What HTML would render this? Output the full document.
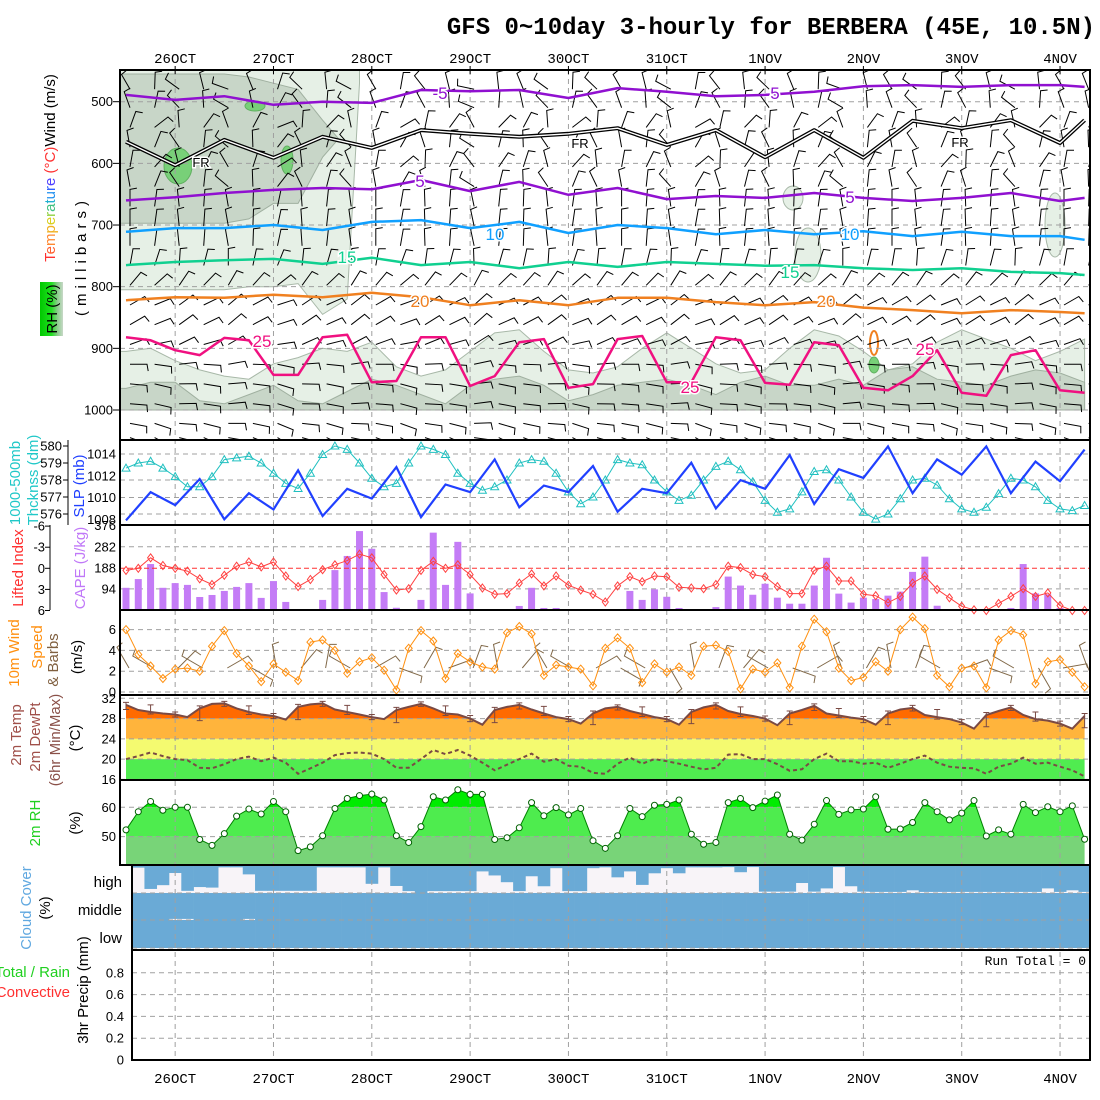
<!DOCTYPE html>
<html><head><meta charset="utf-8"><title>GFS meteogram BERBERA</title>
<style>
html,body{margin:0;padding:0;background:#fff;}
svg{display:block;font-family:"Liberation Sans",sans-serif;}
.tk{font-size:13px;fill:#000;}
.lab{font-size:15px;}
.date{font-family:"Liberation Mono",monospace;font-size:14px;fill:#000;}
</style></head>
<body>
<svg id="chart" width="1100" height="1100" viewBox="0 0 1100 1100" xmlns="http://www.w3.org/2000/svg">
<defs>
<clipPath id="clipTop"><rect x="120" y="70" width="970" height="370"/></clipPath>
<clipPath id="clipTemp"><polygon id="tempClipPoly" points="0,0"/></clipPath>
<clipPath id="clipRH"><polygon id="rhClipPoly" points="0,0"/></clipPath>
<linearGradient id="rhGrad" x1="0" x2="1" y1="0" y2="0">
<stop offset="0" stop-color="#00c800"/><stop offset="0.5" stop-color="#20e020"/><stop offset="0.75" stop-color="#88cc88"/><stop offset="1" stop-color="#c8d8c8"/></linearGradient>
</defs>
<rect x="0" y="0" width="1100" height="1100" fill="#fff"/>
<g id="layerFill"></g>
<g id="layerGrid"></g>
<g id="layerMarks"></g>
<g id="layerFrame"></g>

<text x="1095" y="34" text-anchor="end" font-family="Liberation Mono, monospace" font-weight="bold" font-size="24">GFS 0~10day 3-hourly for BERBERA (45E, 10.5N)</text>

<!-- top panel labels -->
<text transform="translate(55,168) rotate(-90)" text-anchor="middle" class="lab"><tspan fill="#ff3030">T</tspan><tspan fill="#ff6030">e</tspan><tspan fill="#ff8830">m</tspan><tspan fill="#f0b020">p</tspan><tspan fill="#d8d020">e</tspan><tspan fill="#90d040">r</tspan><tspan fill="#40c080">a</tspan><tspan fill="#20b0d0">t</tspan><tspan fill="#2090f0">u</tspan><tspan fill="#3060ff">r</tspan><tspan fill="#5040ff">e</tspan><tspan fill="#ff3030"> (°C)</tspan><tspan fill="#000">Wind (m/s)</tspan></text>
<rect x="40" y="282" width="23" height="54" fill="url(#rhGrad)"/>
<text transform="translate(57,309) rotate(-90)" text-anchor="middle" class="lab" fill="#000">RH (%)</text>
<text transform="translate(86,256) rotate(-90)" text-anchor="middle" class="lab" fill="#000" letter-spacing="5">(millibars)</text>

<!-- panel 2 -->
<text transform="translate(20,483) rotate(-90)" text-anchor="middle" class="lab" fill="#20c8c8">1000-500mb</text>
<text transform="translate(38,480) rotate(-90)" text-anchor="middle" class="lab" fill="#20c8c8">Thcknss (dm)</text>
<text transform="translate(84,486) rotate(-90)" text-anchor="middle" class="lab" fill="#2040ff">SLP (mb)</text>
<!-- panel 3 -->
<text transform="translate(23,568) rotate(-90)" text-anchor="middle" class="lab" fill="#ff3030">Lifted Index</text>
<text transform="translate(85,568) rotate(-90)" text-anchor="middle" class="lab" fill="#c078f8">CAPE (J/kg)</text>
<!-- panel 4 -->
<text transform="translate(19,653) rotate(-90)" text-anchor="middle" class="lab" fill="#ff9010">10m Wind</text>
<text transform="translate(42,647) rotate(-90)" text-anchor="middle" class="lab" fill="#ff9010">Speed</text>
<text transform="translate(58,660) rotate(-90)" text-anchor="middle" class="lab" fill="#806040">&amp; Barbs</text>
<text transform="translate(82,657) rotate(-90)" text-anchor="middle" class="lab" fill="#000">(m/s)</text>
<!-- panel 5 -->
<text transform="translate(21,735) rotate(-90)" text-anchor="middle" class="lab" fill="#a0504a">2m Temp</text>
<text transform="translate(40,737) rotate(-90)" text-anchor="middle" class="lab" fill="#a0504a">2m DewPt</text>
<text transform="translate(60,740) rotate(-90)" text-anchor="middle" class="lab" fill="#8a5048">(6hr Min/Max)</text>
<text transform="translate(80,738) rotate(-90)" text-anchor="middle" class="lab" fill="#000">(°C)</text>
<!-- panel 6 -->
<text transform="translate(40,823) rotate(-90)" text-anchor="middle" class="lab" fill="#20d020">2m RH</text>
<text transform="translate(80,823) rotate(-90)" text-anchor="middle" class="lab" fill="#000">(%)</text>
<!-- panel 7 -->
<text transform="translate(31,908) rotate(-90)" text-anchor="middle" class="lab" fill="#60a8e0">Cloud Cover</text>
<text transform="translate(50,908) rotate(-90)" text-anchor="middle" class="lab" fill="#000">(%)</text>
<text x="122" y="887" text-anchor="end" class="lab">high</text>
<text x="122" y="915" text-anchor="end" class="lab">middle</text>
<text x="122" y="943" text-anchor="end" class="lab">low</text>
<!-- panel 8 -->
<text x="70" y="977" text-anchor="end" class="lab" fill="#20d020">Total / Rain</text>
<text x="70" y="997" text-anchor="end" class="lab" fill="#ff3030">Convective</text>
<text transform="translate(88,990) rotate(-90)" text-anchor="middle" class="lab" fill="#000">3hr Precip (mm)</text>
<text x="1086" y="965" text-anchor="end" font-family="Liberation Mono, monospace" font-size="13">Run Total = 0</text>
</svg>
<script>
// ---------- data ----------
const dayLabels = ["26OCT","27OCT","28OCT","29OCT","30OCT","31OCT","1NOV","2NOV","3NOV","4NOV"];
// 3-hourly series (79 points)
const rh2m = [52.3,58.5,62,59,60,60,49,47,51,57,59.4,57.7,62,58.5,45.2,46.5,50.3,59.6,63,64,64.5,62.5,50.3,48,53.4,63.6,62.5,66,64.4,64.4,49,49.6,53,61.6,57.1,59.9,57.4,59.6,48.6,46,50.3,59.6,56.8,60.7,61,62.5,50.8,47.4,48,61.6,63,59.9,62.1,64.2,50.8,48.8,54.2,62.3,57.6,59.1,59.4,63.6,52.5,52.6,54.8,61.6,58.5,55.7,58,62.3,50.2,52.3,50.8,61,58.2,60.2,58.5,60.5,49.1];
const temp2m = [30.7,29.7,29.3,29,28.8,28.3,30,30.9,31,30,29.3,28.8,28.5,27.8,30.3,30.8,31,29.8,29.3,28.8,28.3,27.9,29.7,30.3,30.9,30,29,28.8,28,26.8,29.7,30.3,30.7,29.8,29,28.3,27.9,27,29,30,30.3,29.5,28.9,28.3,27.9,26.8,29.3,30.2,30.7,29.5,28.9,28.5,28,26.7,29,29.7,30.5,29,28.6,28.2,27.9,26.8,29,29.8,30.1,28.7,28.3,27.9,27.2,26,28.7,29.5,30.2,28.7,27.9,27.6,27,26,28.5];
const dewpt2m = [20,20.6,21.3,20.6,20,19.8,18.3,18.2,19,20,20.5,19.6,20.3,19.3,17.1,18.2,19.3,20.8,21.2,21.3,21.1,20,18.3,18.3,20,21.8,21,21.8,20.7,19.3,17.8,18.9,20,21.1,19.5,20,18.7,18.5,17.3,17.1,19.1,20.3,19.1,20,19.6,19.1,18.5,18,18.3,20.9,21,20,20,19,17.7,18,20,21.1,19.6,19.6,19.1,19.3,18.3,19.1,20,20.7,19.3,18.5,18.3,18.2,17.1,18.5,19.1,20.3,19.1,19.3,18.5,17.8,16.6];
const tMax6 = [31.2,30.7,29.3,30.5,31.4,30.5,29.0,30.8,31.4,30.6,28.8,30.2,31.3,30.5,28.6,30.2,31.1,30.4,28.4,29.5,30.7,30.3,28.4,29.8,31.1,30.3,28.5,29.5,30.9,30.0,28.4,29.5,30.6,29.8,27.8,29.2,30.6,29.3,27.5,29.0];
const tMin6 = [29.8,28.9,28.3,27.6,30.4,28.8,28.0,27.8,30.4,28.8,27.8,27.2,30.4,28.6,27.4,27.2,29.9,28.6,27.4,26.8,29.7,28.4,27.4,27.0,29.9,28.4,27.5,26.8,29.6,28.2,27.2,26.8,29.5,27.9,26.8,26.4,29.6,27.5,26.5,26.2];
const wind10 = [6,3.6,2.5,1.3,2.2,2.3,2,4.4,5.9,3.7,2.5,1,2.7,1.9,1.1,4.8,5,4,1.8,2.9,3.3,2.1,0.2,4.2,5.9,4.9,1.3,3.7,2.9,2.4,2.2,5.7,6.3,5.6,1.6,2.6,2.4,2.2,0.6,4.2,5.2,4.2,0.9,2.7,1.9,2.4,1.6,4.4,4.5,3.9,0.3,2.2,1.9,2.8,0.4,4.4,7,5.8,2.3,1.1,1.4,2.9,2,6,7.2,6.1,1.6,0.5,2.3,2.5,0.4,5,5.9,5.5,0.8,2.9,3.1,1.9,0.5];
const wind10Dir = [330,300,45,300,60,120,350,40,10,300,60,110,30,70,20,350,40,330,300,60,120,300,150,350,20,40,300,110,60,340,30,350,20,300,70,110,300,150,80,340];
const thickness = [578.7,579,579.1,578.7,578.2,577.6,577.6,578.2,579.2,579.3,579.4,579,578.4,577.8,577.5,578.4,579.5,580,579.8,579,578.1,577.6,577.8,579,580,579.8,579.5,578.4,577.8,577.4,577.6,578,579,579.2,579.1,578.4,577.3,576.6,577,578,579.2,579,578.9,578,577.3,576.8,577.1,578,578.8,579.1,578.6,577.9,576.8,576.1,576.3,577.3,578.5,578.6,578,577,576.1,575.7,576,576.9,578,578.1,577.7,576.9,576.3,576.1,576.4,577.2,578.1,578,577.6,576.8,576.3,576.2,576.5];
const cape = [99,138,205,99,120,112,58,67,85,103,120,54,129,36,4,4,45,178,241,352,273,80,10,0,45,345,112,304,74,0,0,0,18,99,9,9,0,2,0,0,0,85,45,92,59,9,4,0,13,149,109,68,117,55,28,28,109,233,73,33,55,49,64,82,170,238,19,0,0,0,0,2,9,205,74,70,9,2,0];
const liftedIndex = [0.3,0,-1.5,-0.4,0,0.4,1.5,2.3,1,-0.3,-0.9,-0.2,-0.9,1.1,2.6,1.6,0.2,-0.5,-1.1,-2,-1.5,0.9,3.1,2.9,0.3,-1,0,-0.5,0.9,2.8,3.7,3.6,2.1,0.8,2.5,1.1,2.4,3.1,3.7,4.8,2.5,1.2,1.9,1.1,1.2,2.7,2.8,2.9,2.3,-0.3,-0.1,0.9,1.2,2.6,3.6,3.6,0.3,-0.3,1.8,1.8,3.7,3.9,4.9,4,2.1,1.1,3,4.2,5.4,5.9,6,5,4,2.9,4,3.5,5.3,6,6];
const highCloud = [61,6,85,71,26,92,78,80,5,5,31,92,92,92,92,92,5,5,5,5,66,5,74,93,100,93,93,93,93,20,35,60,93,38,75,8,93,93,8,5,42,20,70,27,8,27,5,5,5,4,23,4,95,95,95,63,95,83,4,75,95,96,96,96,90,96,96,96,96,96,96,96,96,96,96,83,96,90,96];
const midCloud = [100,100,100,100,96,96,100,100,100,100,96,100,100,100,100,100,100,100,100,100,100,100,100,100,100,100,100,100,100,100,100,100,100,100,100,100,100,100,100,100,100,100,100,100,100,100,100,100,100,100,100,100,100,100,100,100,100,100,100,100,100,100,100,100,100,100,100,100,100,100,100,100,100,100,100,100,100,100,100];
const lowCloud = [100,100,100,100,100,100,100,100,100,100,100,100,100,100,100,100,100,100,100,100,100,100,100,100,100,100,100,100,100,100,100,100,100,100,100,100,100,100,100,100,100,100,100,100,100,100,100,100,100,100,100,100,100,100,100,100,100,100,100,100,100,100,100,100,100,100,100,100,100,100,100,100,100,100,100,100,100,100,100];
const precip = new Array(79).fill(0);
// 6-hourly SLP (even indices)
const slp = [1007.9,1010.5,1009.3,1011.7,1008,1010.4,1008.9,1012.5,1008.3,1010.8,1009.9,1012.8,1008.2,1011.2,1010.5,1013.5,1009.1,1011.1,1010.5,1012.9,1008.7,1010.8,1010.4,1013.2,1009,1011.6,1010.8,1013.9,1009.4,1012.6,1011.8,1014.7,1010.4,1013.5,1012.1,1014.7,1010.4,1013.3,1011.5,1014.4];
// upper-air temperature contours: pressure (mb) of isotherm, every 4th step (+last)
const c4Idx = [0,4,8,12,16,20,24,28,32,36,40,44,48,52,56,60,64,68,72,76,78];
const isoM5a = [489,497,491,505,500,502,481,483,481,494,478,484,491,489,484,475,473,476,473,473,476];
const isoFR = [565,603,562,591,557,575,546,552,557,552,543,570,546,590,546,591,531,543,530,567,530];
const isoM5b = [660,655,648,643,640,642,627,645,630,651,640,658,653,656,648,656,661,656,648,661,656];
const iso10 = [711,705,705,700,708,695,692,705,695,713,700,705,715,708,715,710,718,711,718,718,724];
const iso15 = [765,760,757,755,763,753,765,760,770,760,768,760,763,766,765,770,773,770,776,778,781];
const iso20 = [822,817,818,813,817,810,817,830,822,830,818,818,825,830,825,834,838,843,838,841,843];
// 25C contour every 2nd step
const iso25 = [882,887,903,911,883,887,943,943,882,878,955,953,882,882,961,945,890,885,964,958,885,880,955,955,882,887,956,959,890,895,964,968,945,903,972,977,911,903,968,972];
// RH shading boundaries (mb), every 2nd step
const rhUpperLightBot = [805,805,805,805,805,800,800,795,845,820];
const rhUpperDarkBot = [697,697,697,697,697,690,665,665,590];
const rhUpperDarkTop = [455,455,455,455,455,460,470,480,530];
const rhLowLightTop = [905,900,920,935,945,950,925,915,900,905,890,930,945,935,905,875,870,905,935,940,930,900,875,900,925,940,935,900,870,880,905,935,925,890,870,885,900,920,905,885];
const rhLowDarkTop = [965,955,955,985,990,975,960,985,990,970,950,960,975,990,960,950,945,960,985,975,960,955,950,960,975,955,945,960,960,950,960,935,930,950,955,960,945,935,940,955];
// upper-air barbs
const barbP = [470,500,532,564,596,628,660,692,724,756,788,820,852,884,916,948,980,1012,1035];
const barbRowAng = [330,340,20,350,10,350,0,0,0,10,40,60,60,70,90,95,95,100,110];
const barbColJitter = [0,20,-15,10,-25,5,30,-10,15,-20,0,25,-5,10,-30,15,5,-15,20,-10,0,10,-20,25,-5,15,-10,5,20,-25,10,0,-15,20,-5,10,-20,15,0,5];
// axis ticks
const pTicks = [500,600,700,800,900,1000];
const slpTicks = [1008,1010,1012,1014];
const thkTicks = [576,577,578,579,580];
const liTicks = [-6,-3,0,3,6];
const capeTicks = [94,188,282,376];
const wsTicks = [0,2,4,6];
const tTicks = [16,20,24,28,32];
const rhTicks = [50,60];
const prTicks = [0,0.2,0.4,0.6,0.8];

// ---------- scales ----------
const X = i => 126 + i * 12.29;
const pY = p => 101.7 + (p - 500) * 0.6166;
const slpY = v => 454 + (1014 - v) * 10.88;
const thkY = v => 446 + (580 - v) * 17;
const capeY = v => 610 - v / 4.46;
const liY = v => 568.3 + v * 7.03;
const wsY = v => 692 - v * 10.4;
const tY = v => 698.3 + (32 - v) * 5.07;
const rhY = v => 807.3 + (60 - v) * 2.93;
const prY = v => 1060 - v * 109;

const NS = 'http://www.w3.org/2000/svg';
const svg = document.getElementById('chart');
const Lfill = document.getElementById('layerFill');
const Lgrid = document.getElementById('layerGrid');
const Lmarks = document.getElementById('layerMarks');
const Lframe = document.getElementById('layerFrame');
function mk(tag, name, attrs, parent) {
  const el = document.createElementNS(NS, tag);
  for (const k in attrs) el.setAttribute(k, attrs[k]);
  
  
  parent.appendChild(el);
  return el;
}
const pts = arr => arr.map(p => p[0].toFixed(1) + ',' + p[1].toFixed(1)).join(' ');

// ---------- top panel RH shading ----------
const topG = mk('g', 'upper-air-panel', {'clip-path': 'url(#clipTop)'}, Lfill);
(function(){
  let top = [[120, 70]], bot = [];
  rhUpperLightBot.forEach((p, k) => { top.push([X(2*k), 70]); bot.push([X(2*k), pY(p)]); });
  top.push([X(2*rhUpperLightBot.length - 1), 70]);
  bot.push([X(2*rhUpperLightBot.length - 1), pY(470)]);
  bot.reverse(); bot.push([120, pY(rhUpperLightBot[0])]);
  mk('polygon', 'rh-upper-light', {points: pts(top.concat(bot)), fill: '#e6f0e6', stroke: '#a8b8a8', 'stroke-width': 1}, topG);
  let t2 = [[120, pY(rhUpperDarkTop[0])]], b2 = [];
  rhUpperDarkTop.forEach((p, k) => { t2.push([X(2*k), pY(p)]); b2.push([X(2*k), pY(rhUpperDarkBot[k])]); });
  t2.push([X(2*rhUpperDarkTop.length - 0.7), pY(560)]);
  b2.reverse(); b2.push([120, pY(rhUpperDarkBot[0])]);
  mk('polygon', 'rh-upper-dark', {points: pts(t2.concat(b2)), fill: '#c8d6c8', stroke: '#a0b0a0', 'stroke-width': 1}, topG);
  // lower moist layer
  let l1 = [[120, pY(1000)], [120, pY(rhLowLightTop[0])]];
  rhLowLightTop.forEach((p, k) => l1.push([X(2*k), pY(p)]));
  l1.push([X(78), pY(1000)]);
  mk('polygon', 'rh-lower-light', {points: pts(l1), fill: '#e6f0e6', stroke: '#a8b8a8', 'stroke-width': 1}, topG);
  let l2 = [[120, pY(1000)], [120, pY(rhLowDarkTop[0])]];
  rhLowDarkTop.forEach((p, k) => l2.push([X(2*k), pY(p)]));
  l2.push([X(78), pY(1000)]);
  mk('polygon', 'rh-lower-dark', {points: pts(l2), fill: '#c8d6c8', stroke: '#a0b0a0', 'stroke-width': 1}, topG);
  // small moist blobs
  mk('ellipse', 'rh-blob', {cx: 808, cy: 255, rx: 13, ry: 27, fill: '#e6f0e6', stroke: '#a8b8a8'}, topG);
  mk('ellipse', 'rh-blob', {cx: 1055, cy: 225, rx: 10, ry: 32, fill: '#e6f0e6', stroke: '#a8b8a8'}, topG);
  mk('ellipse', 'rh-blob', {cx: 793, cy: 198, rx: 10, ry: 12, fill: '#e6f0e6', stroke: '#a8b8a8'}, topG);
  mk('ellipse', 'rh-blob-saturated', {cx: 178, cy: 166, rx: 14, ry: 18, fill: '#78d078', stroke: '#60b060'}, topG);
  mk('ellipse', 'rh-blob-saturated', {cx: 287, cy: 160, rx: 6, ry: 14, fill: '#78d078', stroke: '#60b060'}, topG);
  mk('ellipse', 'rh-blob-saturated', {cx: 255, cy: 106, rx: 10, ry: 5, fill: '#78d078', stroke: '#60b060'}, topG);
  mk('ellipse', 'rh-blob-saturated', {cx: 874, cy: 365, rx: 5, ry: 8, fill: '#78d078', stroke: '#60b060'}, topG);
  mk('ellipse', 'rh-contour-orange', {cx: 874, cy: 343, rx: 4, ry: 12, fill: 'none', stroke: '#f08020', 'stroke-width': 2}, topG);
})();

// ---------- panel 5 fills ----------
(function(){
  const poly = [[X(0), 780]].concat(temp2m.map((v, i) => [X(i), tY(v)])).concat([[X(78), 780]]);
  document.getElementById('tempClipPoly').setAttribute('points', pts(poly));
  const g = mk('g', 'temp-fill', {'clip-path': 'url(#clipTemp)'}, Lfill);
  mk('rect', 'temp-band-hot', {x: 120, y: 695, width: 970, height: tY(28) - 695, fill: '#ff6a00'}, g);
  mk('rect', 'temp-band-warm', {x: 120, y: tY(28), width: 970, height: tY(24) - tY(28), fill: '#ffb43c'}, g);
  mk('rect', 'temp-band-mild', {x: 120, y: tY(24), width: 970, height: tY(20) - tY(24), fill: '#f4fa70'}, g);
  mk('rect', 'temp-band-cool', {x: 120, y: tY(20), width: 970, height: 780 - tY(20), fill: '#50ec50'}, g);
})();
// ---------- panel 6 fills ----------
(function(){
  const poly = [[X(0), 865]].concat(rh2m.map((v, i) => [X(i), rhY(v)])).concat([[X(78), 865]]);
  document.getElementById('rhClipPoly').setAttribute('points', pts(poly));
  const g = mk('g', 'rh2m-fill', {'clip-path': 'url(#clipRH)'}, Lfill);
  mk('rect', 'rh2m-band-high', {x: 120, y: 780, width: 970, height: rhY(60) - 780, fill: '#00ec00'}, g);
  mk('rect', 'rh2m-band-mid', {x: 120, y: rhY(60), width: 970, height: rhY(50) - rhY(60), fill: '#4eec4e'}, g);
  mk('rect', 'rh2m-band-low', {x: 120, y: rhY(50), width: 970, height: 865 - rhY(50), fill: '#78d478'}, g);
})();
// ---------- panel 7 cloud ----------
(function(){
  mk('rect', 'cloud-high-bg', {x: 132, y: 866, width: 958, height: 27, fill: '#f8f4f8'}, Lfill);
  mk('rect', 'cloud-mid-bg', {x: 132, y: 893, width: 958, height: 27, fill: '#f8f4f8'}, Lfill);
  mk('rect', 'cloud-low-bg', {x: 132, y: 920, width: 958, height: 28, fill: '#f8f4f8'}, Lfill);
  const layers = [[highCloud, 866, 27, 'cloud-high'], [midCloud, 893, 27, 'cloud-mid'], [lowCloud, 920, 28, 'cloud-low']];
  layers.forEach(L => {
    L[0].forEach((v, i) => {
      const x0 = Math.max(132, X(i) - 6.15);
      const x1 = Math.min(1090, X(i) + 6.15 + (i === 78 ? 6 : 0));
      mk('rect', L[3] + '-cell', {x: x0, y: L[1], width: x1 - x0 + 0.3, height: L[2] * v / 100, fill: '#6aaad6'}, Lfill);
    });
  });
})();

// ---------- grids ----------
function hline(y, x0, x1, name, color) {
  mk('line', name, {x1: x0, x2: x1, y1: y, y2: y, stroke: color || '#a0a0a0', 'stroke-width': 1, 'stroke-dasharray': '5,4'}, Lgrid);
}
dayLabels.forEach((d, k) => {
  const x = X(4 + 8 * k);
  mk('line', 'day-gridline', {x1: x, x2: x, y1: 70, y2: 1060, stroke: '#a0a0a0', 'stroke-width': 1, 'stroke-dasharray': '5,4'}, Lgrid);
});
pTicks.forEach(p => hline(pY(p), 120, 1090, 'pressure-gridline'));
hline(slpY(1014), 120, 1090, 'slp-gridline'); hline(slpY(1010), 120, 1090, 'slp-gridline');
hline(thkY(578), 120, 1090, 'thickness-gridline'); hline(thkY(576), 120, 1090, 'thickness-gridline');
hline(capeY(282), 120, 1090, 'cape-gridline'); hline(capeY(94), 120, 1090, 'cape-gridline');
wsTicks.forEach(v => hline(wsY(v), 120, 1090, 'wind10-gridline'));
tTicks.forEach(v => hline(tY(v), 120, 1090, 'temp-gridline'));
rhTicks.forEach(v => hline(rhY(v), 120, 1090, 'rh2m-gridline'));
hline(893, 132, 1090, 'cloud-gridline'); hline(920, 132, 1090, 'cloud-gridline'); hline(948, 132, 1090, 'cloud-gridline');
prTicks.slice(1).forEach(v => hline(prY(v), 132, 1090, 'precip-gridline'));

// ---------- barbs ----------
function barb(x, y, ang, len, color, name, parent) {
  const r = ang * Math.PI / 180;
  const x2 = x + len * Math.sin(r), y2 = y - len * Math.cos(r);
  const f = (ang + 80) * Math.PI / 180;
  const fx = x2 + 7 * Math.sin(f), fy = y2 - 7 * Math.cos(f);
  mk('path', name, {d: 'M' + x.toFixed(1) + ' ' + y.toFixed(1) + 'L' + x2.toFixed(1) + ' ' + y2.toFixed(1) + 'L' + fx.toFixed(1) + ' ' + fy.toFixed(1), stroke: color, 'stroke-width': 1, fill: 'none'}, parent);
}
const barbG = mk('g', 'upper-wind-barbs', {'clip-path': 'url(#clipTop)'}, Lmarks);
barbP.forEach((p, r) => {
  barbColJitter.forEach((j, c) => {
    const a = barbRowAng[r] + (p < 650 ? j * 1.6 : j * 0.4);
    barb(X(2 * c) + 4, pY(p) + 6, a, 17, '#000', 'wind-barb', barbG);
  });
});

// ---------- isotherms ----------
function contour(idx, vals, color, w, name) {
  return mk('polyline', name, {points: pts(vals.map((p, k) => [X(idx[k]), pY(p)])), fill: 'none', stroke: color, 'stroke-width': w, 'stroke-linejoin': 'round'}, topG);
}
const topLines = mk('g', 'isotherms', {'clip-path': 'url(#clipTop)'}, Lmarks);
function contour2(idx, vals, color, w, name) {
  return mk('polyline', name, {points: pts(vals.map((p, k) => [X(idx[k]), pY(p)])), fill: 'none', stroke: color, 'stroke-width': w, 'stroke-linejoin': 'round'}, topLines);
}
contour2(c4Idx, isoM5a, '#9010d0', 2.5, 'isotherm-minus5-upper');
contour2(c4Idx, isoFR, '#000', 4, 'isotherm-freezing-outer');
contour2(c4Idx, isoFR, '#fff', 1.4, 'isotherm-freezing-inner');
contour2(c4Idx, isoM5b, '#9010d0', 2.5, 'isotherm-5');
contour2(c4Idx, iso10, '#10a0ff', 2.5, 'isotherm-10');
contour2(c4Idx, iso15, '#10d090', 2.5, 'isotherm-15');
contour2(c4Idx, iso20, '#f08020', 2.5, 'isotherm-20');
const idx2 = iso25.map((v, k) => 2 * k);
contour2(idx2, iso25, '#f01080', 2.5, 'isotherm-25');
const clabels = [[440, 99, '-5', '#9010d0'], [775, 99, '5', '#9010d0'], [420, 187, '5', '#9010d0'], [850, 203, '5', '#9010d0'], [495, 240, '10', '#10a0ff'], [850, 240, '10', '#10a0ff'], [347, 263, '15', '#10d090'], [790, 278, '15', '#10d090'], [420, 307, '20', '#f08020'], [826, 307, '20', '#f08020'], [262, 347, '25', '#f01080'], [690, 393, '25', '#f01080'], [925, 355, '25', '#f01080'], [201, 167, 'FR', '#000'], [580, 148, 'FR', '#000'], [960, 147, 'FR', '#000']];
clabels.forEach(c => {
  const t = mk('text', 'isotherm-label', {x: c[0], y: c[1], fill: c[3], 'font-size': c[2] === 'FR' ? 13 : 17, 'text-anchor': 'middle', stroke: '#fff', 'stroke-width': 3, 'paint-order': 'stroke'}, Lmarks);
  t.textContent = c[2];
});

// ---------- panel 2 ----------
mk('polyline', 'thickness-line', {points: pts(thickness.map((v, i) => [X(i), thkY(v)])), fill: 'none', stroke: '#20c0c0', 'stroke-width': 1}, Lmarks);
thickness.forEach((v, i) => {
  const x = X(i), y = thkY(v);
  mk('polygon', 'thickness-marker', {points: pts([[x, y - 4], [x - 4, y + 3], [x + 4, y + 3]]), fill: 'none', stroke: '#20c0c0', 'stroke-width': 1}, Lmarks);
});
mk('polyline', 'slp-line', {points: pts(slp.map((v, k) => [X(2 * k), slpY(v)])), fill: 'none', stroke: '#2040ff', 'stroke-width': 2.2}, Lmarks);

// ---------- panel 3 ----------
cape.forEach((v, i) => {
  if (v <= 0) return;
  mk('rect', 'cape-bar', {x: X(i) - 3.5, y: capeY(v), width: 7, height: 610 - capeY(v), fill: '#c47cf6'}, Lmarks);
});
mk('line', 'li-zero-line', {x1: 120, x2: 1090, y1: liY(0), y2: liY(0), stroke: '#ff3030', 'stroke-width': 1, 'stroke-dasharray': '5,3'}, Lmarks);
mk('polyline', 'lifted-index-line', {points: pts(liftedIndex.map((v, i) => [X(i), liY(v)])), fill: 'none', stroke: '#ff4040', 'stroke-width': 1}, Lmarks);
liftedIndex.forEach((v, i) => {
  const x = X(i), y = liY(v);
  mk('polygon', 'lifted-index-marker', {points: pts([[x, y - 4], [x + 3, y], [x, y + 4], [x - 3, y]]), fill: 'none', stroke: '#ff4040', 'stroke-width': 1}, Lmarks);
});

// ---------- panel 4 ----------
wind10Dir.forEach((a, k) => barb(X(2 * k) + 3, 668, a, 24, '#806848', 'wind10-barb', Lmarks));
mk('polyline', 'wind10-speed-line', {points: pts(wind10.map((v, i) => [X(i), wsY(v)])), fill: 'none', stroke: '#ff9010', 'stroke-width': 1}, Lmarks);
wind10.forEach((v, i) => {
  const x = X(i), y = wsY(v);
  mk('polygon', 'wind10-marker', {points: pts([[x, y - 4], [x + 3.5, y], [x, y + 4], [x - 3.5, y]]), fill: 'none', stroke: '#ff9010', 'stroke-width': 1}, Lmarks);
});

// ---------- panel 5 ----------
mk('polyline', 'temp2m-line', {points: pts(temp2m.map((v, i) => [X(i), tY(v)])), fill: 'none', stroke: '#7a4a44', 'stroke-width': 2}, Lmarks);
tMax6.forEach((v, k) => {
  const x = X(2 * k), y1 = tY(v), y2 = tY(tMin6[k]);
  mk('path', 'temp-minmax-bar', {d: 'M' + x + ' ' + y1 + 'V' + y2 + 'M' + (x - 3) + ' ' + y1 + 'h6M' + (x - 3) + ' ' + y2 + 'h6', stroke: '#7a4a44', 'stroke-width': 1, fill: 'none'}, Lmarks);
});
mk('polyline', 'dewpt2m-line', {points: pts(dewpt2m.map((v, i) => [X(i), tY(v)])), fill: 'none', stroke: '#7a4a44', 'stroke-width': 2, 'stroke-dasharray': '4,3'}, Lmarks);

// ---------- panel 6 ----------
mk('polyline', 'rh2m-line', {points: pts(rh2m.map((v, i) => [X(i), rhY(v)])), fill: 'none', stroke: '#008000', 'stroke-width': 1}, Lmarks);
rh2m.forEach((v, i) => {
  mk('circle', 'rh2m-marker', {cx: X(i), cy: rhY(v), r: 3, fill: '#fff', stroke: '#006000', 'stroke-width': 1}, Lmarks);
});

// ---------- panel 8 precip ----------
precip.forEach((v, i) => {
  if (v <= 0) return;
  mk('rect', 'precip-bar', {x: X(i) - 4, y: prY(v), width: 8, height: 1060 - prY(v), fill: '#20d020'}, Lmarks);
});

// ---------- frames & ticks ----------
function frame(x, y, w, h, name) { mk('rect', name, {x: x, y: y, width: w, height: h, fill: 'none', stroke: '#000', 'stroke-width': 2}, Lframe); }
frame(120, 70, 970, 370, 'upper-air-frame');
frame(120, 440, 970, 85, 'slp-frame');
frame(120, 525, 970, 85, 'cape-frame');
frame(120, 610, 970, 85, 'wind10-frame');
frame(120, 695, 970, 85, 'temp-frame');
frame(120, 780, 970, 85, 'rh2m-frame');
frame(132, 865, 958, 85, 'cloud-frame');
frame(132, 950, 958, 110, 'precip-frame');
mk('line', 'thickness-axis', {x1: 68, x2: 68, y1: 440, y2: 525, stroke: '#000', 'stroke-width': 1}, Lframe);
mk('line', 'li-axis', {x1: 50, x2: 50, y1: 525, y2: 610, stroke: '#000', 'stroke-width': 1}, Lframe);
function tick(x, y, txt, name, anchor) {
  const t = mk('text', name, {x: x, y: y + 4.5, 'text-anchor': anchor || 'end', class: 'tk'}, Lframe);
  t.textContent = txt;
}
pTicks.forEach(p => { tick(113, pY(p), String(p), 'pressure-tick'); mk('line', 'pressure-tickmark', {x1: 113, x2: 120, y1: pY(p), y2: pY(p), stroke: '#000'}, Lframe); });
slpTicks.forEach(v => tick(116, slpY(v), String(v), 'slp-tick'));
thkTicks.forEach(v => { tick(62, thkY(v), String(v), 'thickness-tick'); mk('line', 'thickness-tickmark', {x1: 63, x2: 68, y1: thkY(v), y2: thkY(v), stroke: '#000'}, Lframe); });
liTicks.forEach(v => { tick(45, liY(v), String(v), 'li-tick'); mk('line', 'li-tickmark', {x1: 45, x2: 50, y1: liY(v), y2: liY(v), stroke: '#000'}, Lframe); });
capeTicks.forEach(v => tick(116, capeY(v), String(v), 'cape-tick'));
wsTicks.forEach(v => tick(116, wsY(v), String(v), 'wind10-tick'));
tTicks.forEach(v => tick(116, tY(v), String(v), 'temp-tick'));
rhTicks.forEach(v => tick(116, rhY(v), String(v), 'rh2m-tick'));
prTicks.forEach(v => tick(124, prY(v), String(v), 'precip-tick'));
dayLabels.forEach((d, k) => {
  const x = X(4 + 8 * k);
  const t1 = mk('text', 'top-date-label', {x: x, y: 63, 'text-anchor': 'middle', class: 'date'}, Lframe);
  t1.textContent = d;
  const t2 = mk('text', 'bottom-date-label', {x: x, y: 1083, 'text-anchor': 'middle', class: 'date'}, Lframe);
  t2.textContent = d;
  mk('line', 'top-date-tick', {x1: x, x2: x, y1: 66, y2: 74, stroke: '#000'}, Lframe);
});
</script>
</body></html>
